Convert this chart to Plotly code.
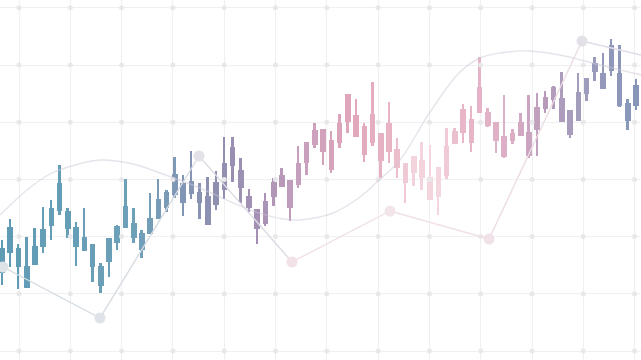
import plotly.graph_objects as go

# ---- data (price units, session index on x) ----
sessions = list(range(78))
high = [120,141,116,123,132,153,160,195,152,138,152,116,97,122,135,181,152,130,167,181,
        170,203,185,209,177,183,189,223,223,202,171,151,167,182,192,180,214,218,237,231,
        229,246,266,261,237,278,227,258,222,197,204,218,215,193,232,232,256,254,303,252,
        238,265,231,247,265,267,269,274,288,250,287,282,303,307,321,315,261,281]
body_top = [112,133,112,94,114,131,152,177,149,133,123,116,94,122,134,154,137,127,142,161,
            168,186,177,179,168,164,178,197,213,190,164,151,159,178,185,180,197,218,230,231,
            220,237,266,245,234,246,227,237,211,197,204,200,183,193,214,229,251,241,273,248,
            238,224,227,238,228,253,263,273,262,250,268,282,297,287,315,287,257,275]
body_bottom = [87,107,93,72,95,113,134,149,131,113,109,93,74,98,117,132,122,110,126,141,
               152,165,157,166,157,135,155,170,194,172,152,131,136,163,173,152,175,197,215,208,
               190,217,238,223,205,217,199,208,192,177,187,182,160,163,184,216,227,217,247,234,
               219,203,219,224,204,230,251,260,238,225,239,266,288,271,289,254,239,254]
low = [75,93,71,72,95,107,120,145,122,94,109,78,67,83,110,132,117,102,126,141,
       148,162,144,161,141,135,150,161,178,157,148,116,134,154,173,139,172,185,212,195,
       187,212,227,223,198,214,182,197,182,157,174,170,160,145,181,216,217,208,247,233,
       207,202,216,224,202,204,247,251,238,222,239,259,279,271,284,253,230,250]

# zig-zag trend line with nodes
zig_x = [0.12, 11.9, 23.93, 35.22, 47.12, 59.15, 70.44, 77.6]
zig_y = [93, 42, 204, 98, 149, 121, 319, 305]

# smooth wave line
wave_x = [-0.24, 3.04, 5.83, 8.87, 11.9, 15.91, 19.19, 24.05, 30.12, 34.13, 36.19, 40.2,
          43.48, 45.54, 48.34, 51.98, 55.62, 58.05, 60.48, 64.12, 67.77, 72.63, 77.6]
wave_y = [145, 170, 186, 195, 200, 196, 187, 172, 150, 141, 140, 147,
          163, 178, 200, 248, 288, 302, 307, 309, 305, 295, 285]

# ---- styling helpers ----
stops = [(0, "#5f9bb5"), (16, "#6ea0b8"), (21, "#7e98b6"), (26, "#8f8fb0"), (31, "#a590b5"),
         (36, "#c59fbd"), (42, "#dfa5ba"), (47, "#e8b4c4"), (50, "#f3d3dc"), (53, "#f4d6de"),
         (56, "#e8b6c8"), (62, "#dbaec6"), (66, "#b89bba"), (70, "#a39dbd"), (74, "#8f98ba"),
         (77, "#8696b8")]

def hex2rgb(h):
    h = h.lstrip("#")
    return [int(h[i:i + 2], 16) for i in (0, 2, 4)]

def color_at(t):
    for (a, ca), (b, cb) in zip(stops[:-1], stops[1:]):
        if a <= t <= b:
            f = (t - a) / (b - a) if b > a else 0
            c1, c2 = hex2rgb(ca), hex2rgb(cb)
            return "rgb(%d,%d,%d)" % tuple(round(c1[k] + (c2[k] - c1[k]) * f) for k in range(3))
    return stops[-1][1]

colors = [color_at(i) for i in sessions]

px_per_session = 8.234
x0 = -2 / px_per_session
x1 = (641 - 2) / px_per_session
grid_tick0 = 17 / px_per_session
grid_dx = 51.3 / px_per_session
grid_dy = 57.2
grid_y0 = 9

fig = go.Figure()

# grid intersection dots
gx = [grid_tick0 + k * grid_dx for k in range(13)]
gy = [grid_y0 + k * grid_dy for k in range(7)]
fig.add_trace(go.Scatter(x=[a for a in gx for b in gy], y=[b for a in gx for b in gy],
                         mode="markers", marker=dict(size=5, color="#e8e8ea"),
                         hoverinfo="skip", showlegend=False))

# wave line
fig.add_trace(go.Scatter(x=wave_x, y=wave_y, mode="lines",
                         line=dict(shape="spline", smoothing=1.0, width=1.4, color="rgba(205,200,215,0.5)"),
                         hoverinfo="skip", showlegend=False))

# zig-zag segments with gradient colours
seg_cols = ["#d3dbe1", "#d5dbe1", "#dcdbe3", "#efdfe6", "#f1e1e7", "#ecdbe3", "#e2dce6"]
for k in range(len(zig_x) - 1):
    fig.add_trace(go.Scatter(x=zig_x[k:k + 2], y=zig_y[k:k + 2], mode="lines",
                             line=dict(width=1.4, color=seg_cols[k]),
                             hoverinfo="skip", showlegend=False))
node_cols = ["#dde3e8", "#dde3e8", "#e4e2e8", "#f2e2e8", "#f3e4e9", "#f0e2e8", "#e4e0e8"]
fig.add_trace(go.Scatter(x=zig_x[:-1], y=zig_y[:-1], mode="markers",
                         marker=dict(size=11, color=node_cols, line=dict(width=0)),
                         hoverinfo="skip", showlegend=False))

# wicks
fig.add_trace(go.Bar(x=sessions, y=[h - l for h, l in zip(high, low)], base=low,
                     width=0.24, marker=dict(color=colors, line=dict(width=0)),
                     hoverinfo="skip", showlegend=False))
# bodies
lo_b = [min(a, b) for a, b in zip(body_top, body_bottom)]
hi_b = [max(a, b) for a, b in zip(body_top, body_bottom)]
fig.add_trace(go.Bar(x=sessions, y=[h - l for h, l in zip(hi_b, lo_b)], base=lo_b,
                     width=0.68, marker=dict(color=colors, line=dict(width=0)),
                     hoverinfo="skip", showlegend=False))

fig.update_layout(
    width=641, height=360, margin=dict(l=0, r=0, t=0, b=0),
    paper_bgcolor="white", plot_bgcolor="white", barmode="overlay", bargap=0,
    xaxis=dict(range=[x0, x1], showticklabels=False, zeroline=False, showline=False,
               tickmode="linear", tick0=grid_tick0, dtick=grid_dx,
               showgrid=True, gridcolor="#f0f0f2", gridwidth=1, ticks=""),
    yaxis=dict(range=[0, 360], showticklabels=False, zeroline=False, showline=False,
               tickmode="linear", tick0=grid_y0, dtick=grid_dy,
               showgrid=True, gridcolor="#f0f0f2", gridwidth=1, ticks=""),
)

fig.write_html("out.html")
